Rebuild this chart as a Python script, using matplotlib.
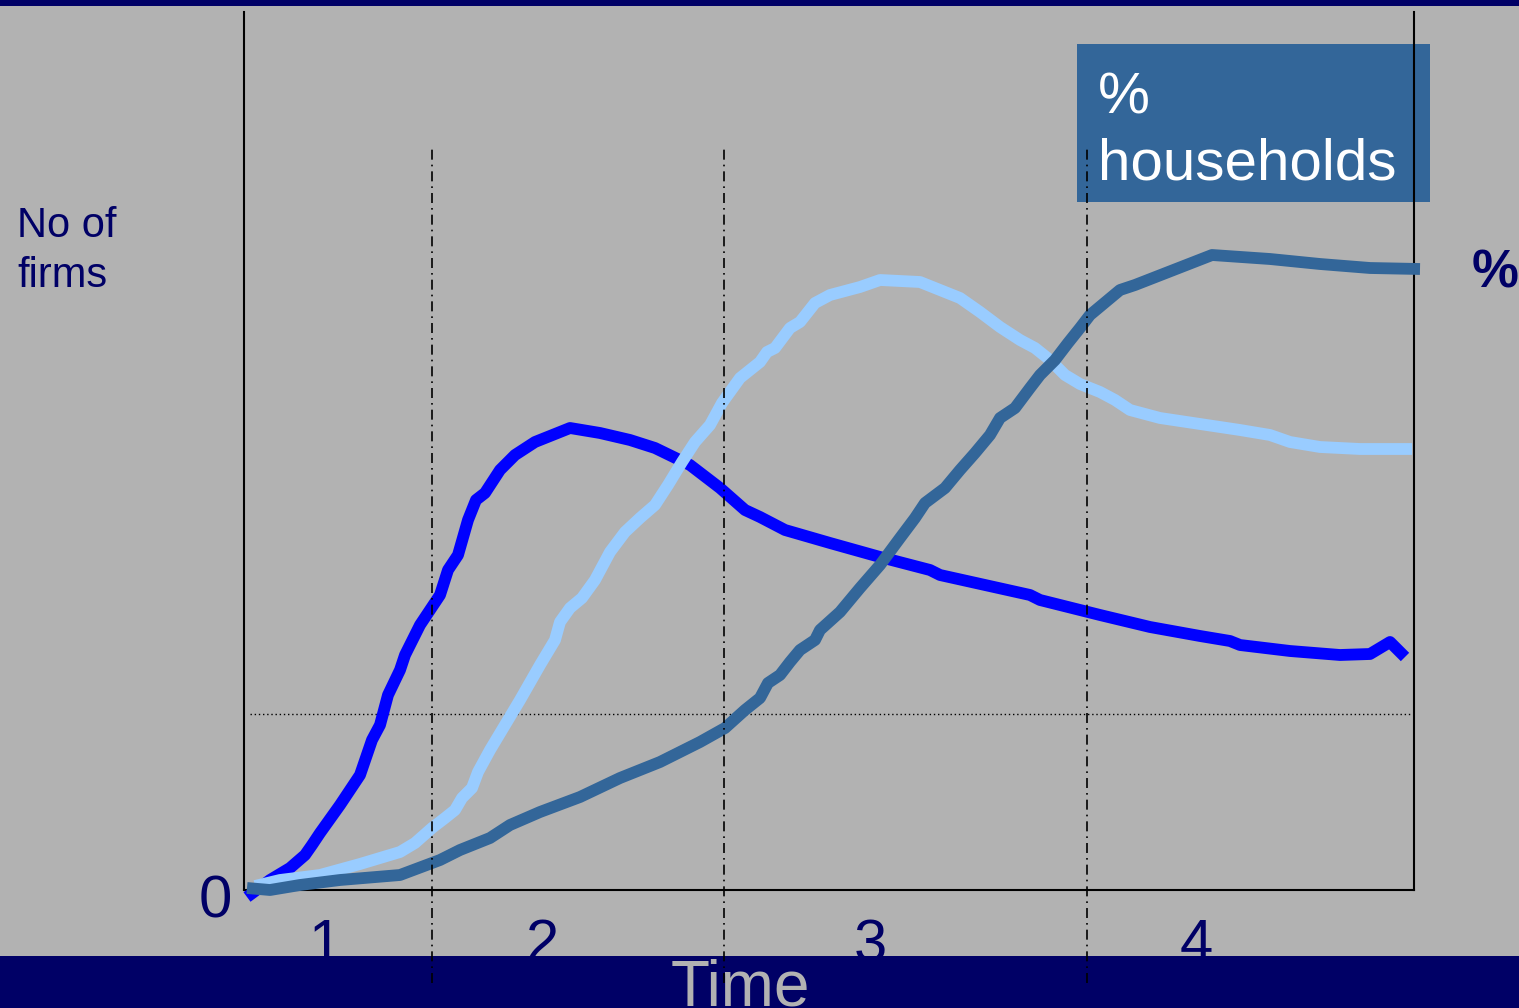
import matplotlib
matplotlib.use("Agg")
import matplotlib.pyplot as plt
from matplotlib.patches import Rectangle

plt.rcParams['font.family'] = ['Liberation Sans', 'DejaVu Sans']

W, H = 1519, 1008
BG = '#B2B2B2'
NAVY = '#000066'

# --- data (time on x, level on y) ---
firms_t = [0.3, 2.6, 4.6, 6.1, 6.8, 7.6, 9.6, 11.6, 12.8, 13.6, 14.4, 15.6, 16.1, 17.6, 19.6,
           20.4, 21.4, 22.4, 23.2, 24.1, 25.6, 27.1, 29.1, 32.6, 35.6, 38.6, 41.1, 44.6, 47.6,
           50.1, 51.6, 54.1, 58.6, 63.6, 68.6, 69.6, 78.6, 79.6, 85.6, 90.6, 95.6, 98.6, 99.6,
           104.6, 109.6, 112.6, 114.6, 116.1]
firms_v = [-0.7, 1.0, 2.2, 3.5, 4.5, 5.7, 8.5, 11.5, 15.0, 16.5, 19.5, 22.0, 23.5, 26.5, 29.5,
           32.0, 33.5, 37.0, 39.0, 39.7, 42.0, 43.5, 44.8, 46.2, 45.7, 45.0, 44.2, 42.5, 40.2,
           38.0, 37.3, 36.0, 34.7, 33.3, 32.0, 31.5, 29.5, 29.0, 27.5, 26.3, 25.4, 24.9, 24.5,
           23.9, 23.5, 23.6, 24.8, 23.3]

light_t = [1.1, 3.6, 7.6, 11.6, 15.6, 17.1, 18.8, 20.1, 21.1, 21.8, 22.8, 23.4, 24.6, 26.1,
           27.6, 29.6, 31.1, 31.6, 32.6, 33.8, 35.1, 36.6, 38.1, 39.6, 41.1, 42.4, 43.8, 45.1,
           46.6, 47.8, 49.6, 51.6, 52.3, 53.1, 54.6, 55.6, 57.1, 58.6, 61.6, 63.6, 67.6, 69.6,
           71.6, 73.6, 75.6, 77.6, 79.1, 80.6, 82.1, 83.6, 85.6, 87.1, 88.6, 91.6, 95.6, 99.6,
           102.6, 104.6, 107.6, 111.6, 116.8]
light_v = [0.4, 1.0, 1.5, 2.6, 3.8, 4.7, 6.2, 7.2, 8.0, 9.2, 10.2, 11.8, 14.0, 16.5,
           19.0, 22.5, 25.0, 26.8, 28.2, 29.2, 31.0, 33.8, 35.8, 37.2, 38.5, 40.5, 42.8, 44.8,
           46.5, 48.7, 51.2, 52.8, 53.8, 54.2, 56.2, 56.8, 58.7, 59.5, 60.3, 61.0, 60.8, 60.0,
           59.2, 57.8, 56.3, 55.0, 54.2, 53.0, 51.5, 50.6, 49.8, 49.0, 48.0, 47.2, 46.6, 46.0,
           45.5, 44.8, 44.3, 44.1, 44.1]

hh_t = [0.3, 2.6, 5.6, 9.6, 15.6, 19.6, 21.6, 24.6, 26.6, 29.6, 33.6, 37.6, 41.6, 45.6, 48.1,
        50.1, 51.6, 52.4, 53.6, 54.6, 55.6, 57.1, 57.6, 59.6, 61.6, 63.6, 65.6, 67.1, 68.1,
        70.1, 71.6, 73.1, 74.6, 75.6, 77.1, 78.6, 79.6, 81.1, 82.4, 83.6, 84.6, 87.6, 89.1,
        96.8, 102.6, 107.6, 112.6, 117.6]
hh_v = [0.2, 0.0, 0.5, 1.0, 1.5, 3.0, 4.0, 5.2, 6.5, 7.8, 9.3, 11.2, 12.8, 14.8, 16.2,
        18.0, 19.2, 20.7, 21.5, 22.8, 24.0, 25.0, 26.0, 27.8, 30.2, 32.5, 35.2, 37.2, 38.7,
        40.2, 42.0, 43.7, 45.5, 47.2, 48.2, 50.2, 51.5, 53.0, 54.7, 56.2, 57.5, 60.0, 60.5,
        63.5, 63.1, 62.6, 62.2, 62.1]

stage_bounds = [18.8, 48.0, 84.3]
stage_labels = ['1', '2', '3', '4']
stage_label_t = [8.1, 29.9, 62.6, 95.2]
threshold = 17.6


def fx(px):
    return px / W


def fy(py):
    return 1 - py / H


fig = plt.figure(figsize=(W / 100, H / 100), dpi=100, facecolor=BG)

# header band
fig.patches.append(Rectangle((0, fy(6)), 1, 1 - fy(6), transform=fig.transFigure,
                             facecolor=NAVY, edgecolor='none', zorder=0))

# footer band (stage numbers sit underneath it)
footer = fig.add_axes([0, 0, 1, fy(956)])
footer.set_zorder(2)
footer.set_facecolor(NAVY)
footer.set_xticks([])
footer.set_yticks([])
for s in footer.spines.values():
    s.set_visible(False)
footer.text(fx(671), fy(1005) / fy(956), 'Time', transform=footer.transAxes,
            ha='left', va='baseline', fontsize=46, color=BG)

# household legend box
box_ax = fig.add_axes([fx(1077), fy(202), fx(1430) - fx(1077), fy(44) - fy(202)])
box_ax.set_zorder(2)
box_ax.set_facecolor('#336699')
box_ax.set_xticks([])
box_ax.set_yticks([])
for s in box_ax.spines.values():
    s.set_visible(False)

# plot area
ax = fig.add_axes([fx(244), fy(890), fx(1414) - fx(244), fy(12) - fy(890)])
ax.set_zorder(3)
ax.set_facecolor('none')
ax.set_xlim(0, 117)
ax.set_ylim(0, 87.8)
ax.set_xticks([])
ax.set_yticks([])
for side in ['left', 'bottom', 'right']:
    ax.spines[side].set_linewidth(1.5)
    ax.spines[side].set_color('black')
ax.spines['top'].set_visible(False)

# stage boundaries and threshold
for b in stage_bounds:
    ax.plot([b, b], [-9.3, 74.2], color='black', lw=1.2,
            linestyle=(0, (6, 3, 1, 3)), clip_on=False, zorder=6)
ax.plot([0.6, 117], [threshold, threshold], color='black', lw=1.0,
        linestyle=(0, (1, 2)), zorder=2)

# curves
kw = dict(lw=8.5, solid_capstyle='butt', solid_joinstyle='round', clip_on=False)
ax.plot(firms_t, firms_v, color='#0000FF', zorder=3, **kw)
ax.plot(light_t, light_v, color='#99CCFF', zorder=4, **kw)
ax.plot(hh_t, hh_v, color='#336699', zorder=5, **kw)

# stage numbers, partly hidden by the footer band
for t, lab in zip(stage_label_t, stage_labels):
    px = 244 + t * 10
    fig.text(fx(px), fy(961), lab, ha='center', va='baseline', fontsize=43,
             color=NAVY, zorder=1)

fig.text(fx(1098), fy(113), '%', ha='left', va='baseline', fontsize=42, color='white', zorder=10)
fig.text(fx(1098), fy(180), 'households', ha='left', va='baseline', fontsize=42,
         color='white', zorder=10)

# axis labels
fig.text(fx(17), fy(237), 'No of', ha='left', va='baseline', fontsize=30, color=NAVY)
fig.text(fx(17), fy(287), 'firms', ha='left', va='baseline', fontsize=30, color=NAVY)
fig.text(fx(215), fy(918), '0', ha='center', va='baseline', fontsize=43, color=NAVY)
fig.text(fx(1472), fy(287), '%', ha='left', va='baseline', fontsize=38,
         fontweight='bold', color=NAVY)

fig.savefig('out.png', dpi=100, facecolor=BG)
